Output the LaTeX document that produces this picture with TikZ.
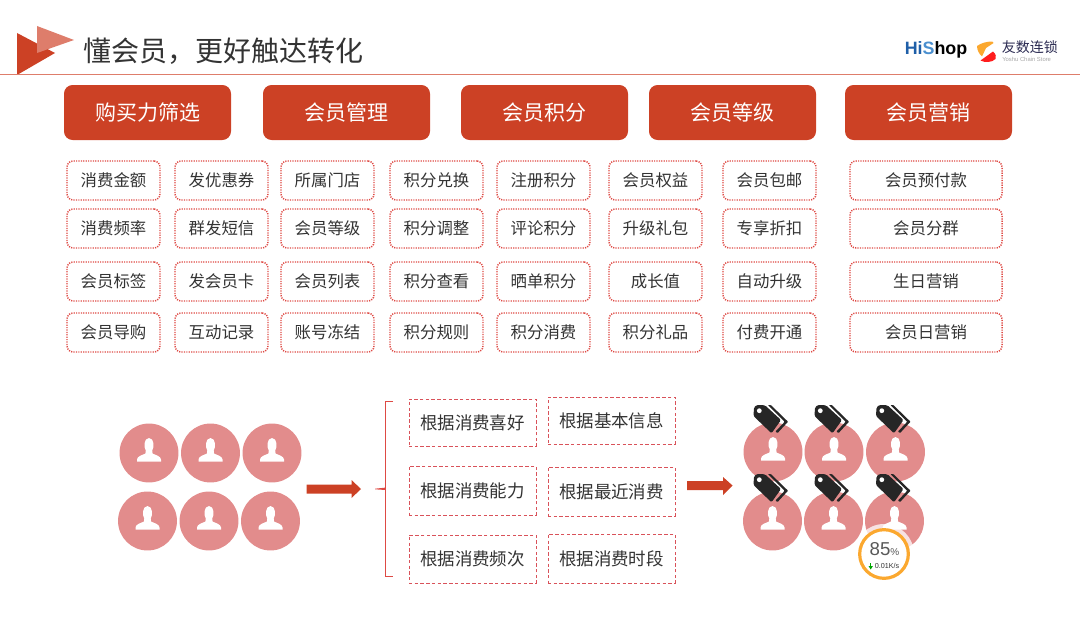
\documentclass[tikz,border=0pt]{standalone}
\usepackage{fontspec}
\setmainfont{Noto Sans CJK SC}
\newfontfamily\latinf{Liberation Sans}
\usetikzlibrary{calc}
\definecolor{brick}{HTML}{CC4125}
\definecolor{lightbrick}{HTML}{DE7D6B}
\definecolor{pinkc}{HTML}{E28C8C}
\definecolor{dotred}{HTML}{DE4A44}
\definecolor{dashred}{HTML}{D9525A}
\definecolor{inkc}{HTML}{333333}
\definecolor{tagblack}{HTML}{262626}
\definecolor{ringc}{HTML}{FBA82F}
\tikzset{
  headbtn/.style={fill=brick,rounded corners=6.5pt,text=white,font=\fontsize{15.75}{16}\selectfont,inner sep=0pt},
  tagbox/.style={draw=dotred,line width=1.1pt,dash pattern=on 0.9pt off 0.9pt,rounded corners=4.5pt,text=inkc,font=\fontsize{12.3}{13}\selectfont,inner sep=0pt},
  critbox/.style={draw=dashred,line width=0.75pt,dash pattern=on 2.6pt off 1.7pt,text=inkc,font=\fontsize{13.1}{14}\selectfont,inner sep=0pt},
  person/.style={circle,fill=pinkc,minimum size=44.2pt,inner sep=0pt},
  blockarrow/.style={fill=brick,draw=none},
  x=0.75pt,y=-0.75pt
}
\newcommand{\boxnode}[7]{% name style x1 y1 x2 y2 text
  \node[#2,minimum width={(#5-#3)*0.75pt},minimum height={(#6-#4)*0.75pt},anchor=center] (#1) at ({(#3+#5)/2},{(#4+#6)/2}) {#7};}
\newcommand{\personicon}[3]{% name x y
  \node[person] (#1) at (#2,#3) {};
  \begin{scope}[shift={(#2,#3)}]
    \fill[white] (-12,8.5) -- (-12,6.5) .. controls (-11.5,3) and (-7,2.2) .. (-3.6,0.6) -- (-3.2,-2.5) .. controls (-5.2,-5) and (-5.5,-15) .. (0,-15) .. controls (5.5,-15) and (5.2,-5) .. (3.2,-2.5) -- (3.6,0.6) .. controls (7,2.2) and (11.5,3) .. (12,6.5) -- (12,8.5) -- cycle;
  \end{scope}}
\newcommand{\tagicon}[2]{% x y of circle centre
  \begin{scope}[shift={(#1,#2)}]
    \fill[tagblack,rounded corners=1pt] (-19,-44.7) -- (-16.3,-47) -- (-8,-46.7) -- (8,-32) -- (-1.5,-18.7) -- (-19.5,-36) -- cycle;
    \fill[tagblack,rounded corners=0.5pt] (-5.2,-47) -- (-2.2,-47) -- (15,-30.3) -- (4.6,-19) -- (2.4,-20.4) -- (11.7,-30.3) -- cycle;
    \fill[white] (-13.7,-41.3) circle (2.4);
  \end{scope}}
\begin{document}
\begin{tikzpicture}
\useasboundingbox (0,0) rectangle (1080,617);
% header
\fill[brick] (17,33) -- (55,53) -- (17,75) -- cycle;
\fill[lightbrick] (37,26) -- (74,40) -- (37,53) -- cycle;
\coordinate (ruleL) at (0,74.5);
\coordinate (ruleR) at (1080,74.5);
\draw[lightbrick,line width=0.8pt] (ruleL) -- (ruleR);
\node[anchor=west,inner sep=0pt,text=inkc,font=\fontsize{21}{22}\selectfont] (title) at (83,51) {懂会员，更好触达转化};
% logos
\node[anchor=west,inner sep=0pt,font=\latinf\bfseries\fontsize{13.4}{14}\selectfont] (hishop) at (904.5,49.5) {\textcolor[HTML]{1F5FA8}{Hi}\textcolor[HTML]{4A8FCF}{S}\textcolor{black}{hop}};
\fill[ringc] (977,46) .. controls (981,43) and (987,41.5) .. (992,41.5) -- (993.5,43) -- (986,48) -- (982,56.5) .. controls (979,54) and (977,50) .. (977,46) -- cycle;
\fill[red!85!pink] (980.5,60.5) -- (993,51.5) .. controls (996,54) and (996.5,57) .. (995.5,59) .. controls (992,62.5) and (985,63) .. (980.5,60.5) -- cycle;
\node[anchor=west,inner sep=0pt,text=inkc!85!blue,font=\fontsize{10.5}{11}\selectfont] (ysname) at (1001.5,47) {友数连锁};
\node[anchor=west,inner sep=0pt,text=black!35,font=\latinf\fontsize{4.4}{5}\selectfont] (ysen) at (1002,59.5) {Yoshu Chain Store};
% head buttons
\boxnode{b1}{headbtn}{64}{85}{231}{140}{购买力筛选}
\boxnode{b2}{headbtn}{263}{85}{430}{140}{会员管理}
\boxnode{b3}{headbtn}{461}{85}{628}{140}{会员积分}
\boxnode{b4}{headbtn}{649}{85}{816}{140}{会员等级}
\boxnode{b5}{headbtn}{845}{85}{1012}{140}{会员营销}
% row 1
\boxnode{a1}{tagbox}{67}{161}{160}{200}{消费金额}
\boxnode{a2}{tagbox}{175}{161}{268}{200}{发优惠券}
\boxnode{a3}{tagbox}{281}{161}{374}{200}{所属门店}
\boxnode{a4}{tagbox}{390}{161}{483}{200}{积分兑换}
\boxnode{a5}{tagbox}{497}{161}{590}{200}{注册积分}
\boxnode{a6}{tagbox}{609}{161}{702}{200}{会员权益}
\boxnode{a7}{tagbox}{723}{161}{816}{200}{会员包邮}
\boxnode{a8}{tagbox}{850}{161}{1002}{200}{会员预付款}
% row 2
\boxnode{c1}{tagbox}{67}{209}{160}{248}{消费频率}
\boxnode{c2}{tagbox}{175}{209}{268}{248}{群发短信}
\boxnode{c3}{tagbox}{281}{209}{374}{248}{会员等级}
\boxnode{c4}{tagbox}{390}{209}{483}{248}{积分调整}
\boxnode{c5}{tagbox}{497}{209}{590}{248}{评论积分}
\boxnode{c6}{tagbox}{609}{209}{702}{248}{升级礼包}
\boxnode{c7}{tagbox}{723}{209}{816}{248}{专享折扣}
\boxnode{c8}{tagbox}{850}{209}{1002}{248}{会员分群}
% row 3
\boxnode{d1}{tagbox}{67}{262}{160}{301}{会员标签}
\boxnode{d2}{tagbox}{175}{262}{268}{301}{发会员卡}
\boxnode{d3}{tagbox}{281}{262}{374}{301}{会员列表}
\boxnode{d4}{tagbox}{390}{262}{483}{301}{积分查看}
\boxnode{d5}{tagbox}{497}{262}{590}{301}{晒单积分}
\boxnode{d6}{tagbox}{609}{262}{702}{301}{成长值}
\boxnode{d7}{tagbox}{723}{262}{816}{301}{自动升级}
\boxnode{d8}{tagbox}{850}{262}{1002}{301}{生日营销}
% row 4
\boxnode{e1}{tagbox}{67}{313}{160}{352}{会员导购}
\boxnode{e2}{tagbox}{175}{313}{268}{352}{互动记录}
\boxnode{e3}{tagbox}{281}{313}{374}{352}{账号冻结}
\boxnode{e4}{tagbox}{390}{313}{483}{352}{积分规则}
\boxnode{e5}{tagbox}{497}{313}{590}{352}{积分消费}
\boxnode{e6}{tagbox}{609}{313}{702}{352}{积分礼品}
\boxnode{e7}{tagbox}{723}{313}{816}{352}{付费开通}
\boxnode{e8}{tagbox}{850}{313}{1002}{352}{会员日营销}
% left people
\personicon{p1}{149}{453}
\personicon{p2}{210.5}{453}
\personicon{p3}{272}{453}
\personicon{p4}{147.5}{521}
\personicon{p5}{209}{521}
\personicon{p6}{270.5}{521}
% left arrow
\fill[blockarrow] (306.5,484.5) -- (351.5,484.5) -- (351.5,480) -- (361,489) -- (351.5,498) -- (351.5,493.5) -- (306.5,493.5) -- cycle;
% brace
\draw[dotred,line width=0.7pt] (393,401.5) -- (385.5,401.5) -- (385.5,576) -- (393,576);
\fill[dotred] (375,488.7) -- (385.5,487.6) -- (385.5,490) -- (375,489.3) -- cycle;
% criteria
\boxnode{k1}{critbox}{409}{399}{536}{446}{根据消费喜好}
\boxnode{k2}{critbox}{548}{397}{675}{444}{根据基本信息}
\boxnode{k3}{critbox}{409}{466}{536}{515}{根据消费能力}
\boxnode{k4}{critbox}{548}{467}{675}{516}{根据最近消费}
\boxnode{k5}{critbox}{409}{535}{536}{583}{根据消费频次}
\boxnode{k6}{critbox}{548}{534}{675}{583}{根据消费时段}
% right arrow
\fill[blockarrow] (687,481) -- (723,481) -- (723,477) -- (732.5,485.5) -- (723,495) -- (723,490) -- (687,490) -- cycle;
% right people
\personicon{q1}{773}{452}
\personicon{q2}{834}{452}
\personicon{q3}{895.5}{452}
\personicon{q4}{772.5}{521}
\personicon{q5}{833.5}{521}
\personicon{q6}{894.5}{521}
\tagicon{773}{452}
\tagicon{834}{452}
\tagicon{895.5}{452}
\tagicon{773}{521}
\tagicon{834}{521}
\tagicon{895.5}{521}
% badge
\fill[white,opacity=0.75] (884,554) circle (30);
\node[circle,draw=ringc,line width=2.4pt,fill=white,minimum size=36.5pt,inner sep=0pt] (badge) at (884,554) {};
\node[inner sep=0pt,text=black!65,font=\latinf\fontsize{14}{14}\selectfont] (pct) at (884.5,549.5) {85\fontsize{7.5}{8}\selectfont\%};
\node[inner sep=0pt,text=black!80,font=\latinf\fontsize{5.4}{6}\selectfont] (speed) at (887,566) {0.01K/s};
\fill[green!65!black] (870.2,562.5) rectangle (871.2,566.5);
\fill[green!65!black] (868.5,566) -- (872.9,566) -- (870.7,569.5) -- cycle;
\end{tikzpicture}
\end{document}
